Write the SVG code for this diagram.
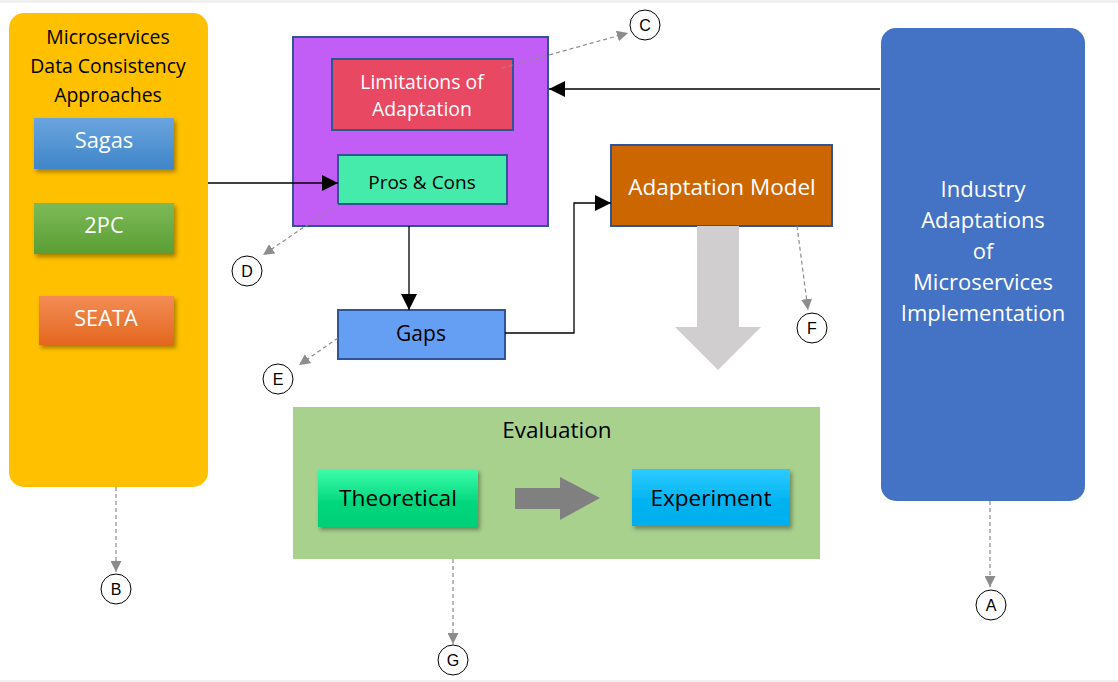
<svg xmlns="http://www.w3.org/2000/svg" width="1118" height="682" viewBox="0 0 1118 682">
<defs>
<style>
text{font-family:"Open Sans","Noto Sans","Liberation Sans",sans-serif;text-anchor:middle;}
.w{fill:#fff}
.k{fill:#000}
.box{stroke:#2F5597;stroke-width:2}
.solid{stroke:#000;stroke-width:1.3;fill:none}
.dash{stroke:#8C8C8C;stroke-width:1.2;stroke-dasharray:4 3;fill:none}
.lbl circle{fill:#fff;stroke:#000;stroke-width:1}
.lbl text{font-family:"Liberation Sans",Arial,sans-serif;font-size:16px;fill:#000}
</style>
<marker id="ah" viewBox="0 0 10 10" refX="10" refY="5" markerWidth="16" markerHeight="16" markerUnits="userSpaceOnUse" orient="auto"><path d="M0,0L10,5L0,10z" fill="#000"/></marker>
<marker id="gh" viewBox="0 0 10 10" refX="10" refY="5" markerWidth="11" markerHeight="11" markerUnits="userSpaceOnUse" orient="auto"><path d="M0,0L10,5L0,10z" fill="#8C8C8C"/></marker>
<linearGradient id="gBlue" x1="0" y1="0" x2="0" y2="1"><stop offset="0" stop-color="#6BA5DE"/><stop offset="1" stop-color="#3F85C9"/></linearGradient>
<linearGradient id="gGreen" x1="0" y1="0" x2="0" y2="1"><stop offset="0" stop-color="#7DBA58"/><stop offset="1" stop-color="#5A9E34"/></linearGradient>
<linearGradient id="gOrange" x1="0" y1="0" x2="0" y2="1"><stop offset="0" stop-color="#F28C55"/><stop offset="1" stop-color="#E4661F"/></linearGradient>
<linearGradient id="gTheo" x1="0" y1="0" x2="0" y2="1"><stop offset="0" stop-color="#3DFDAA"/><stop offset="0.6" stop-color="#00D67C"/><stop offset="1" stop-color="#00D078"/></linearGradient>
<linearGradient id="gExp" x1="0" y1="0" x2="0" y2="1"><stop offset="0" stop-color="#2DCBFF"/><stop offset="0.6" stop-color="#00B2F0"/><stop offset="1" stop-color="#00AEEE"/></linearGradient>
<filter id="sh" x="-10%" y="-10%" width="125%" height="135%"><feDropShadow dx="2" dy="3" stdDeviation="2" flood-color="#000" flood-opacity="0.35"/></filter>
</defs>
<rect x="0" y="0" width="1118" height="682" fill="#fff"/>
<rect x="0" y="0" width="1118" height="3" fill="#F0F0F0"/>
<rect x="0" y="680" width="1118" height="2" fill="#F0F0F0"/>

<g id="approaches">
<rect x="9" y="13" width="199" height="474" rx="15" fill="#FFC000"/>
<text x="108" y="44" font-size="19.4" class="k">Microservices</text>
<text x="108" y="73" font-size="19.4" class="k">Data Consistency</text>
<text x="108" y="102" font-size="19.4" class="k">Approaches</text>
</g>
<g id="sagas"><rect x="34" y="118" width="140" height="51" fill="url(#gBlue)" filter="url(#sh)"/><text x="104" y="148" font-size="21.8" class="w">Sagas</text></g>
<g id="twopc"><rect x="34" y="203" width="140" height="51" fill="url(#gGreen)" filter="url(#sh)"/><text x="104" y="233" font-size="21.8" class="w">2PC</text></g>
<g id="seata"><rect x="39" y="296" width="135" height="49" fill="url(#gOrange)" filter="url(#sh)"/><text x="106" y="326" font-size="21.8" class="w">SEATA</text></g>

<g id="group-purple"><rect x="293" y="37" width="255" height="189" fill="#C25EF6" class="box"/></g>
<g id="limitations"><rect x="332" y="59" width="181" height="71" fill="#E94862" class="box"/>
<text x="422" y="89" font-size="19.4" class="w">Limitations of</text>
<text x="422" y="116" font-size="19.4" class="w">Adaptation</text></g>
<g id="proscons"><rect x="338" y="155" width="169" height="49" fill="#45EBAA" class="box"/><text x="422" y="189" font-size="19" class="k">Pros &amp; Cons</text></g>

<g id="gaps"><rect x="338" y="310" width="167" height="49" fill="#659FF4" class="box"/><text x="421" y="341" font-size="21" class="k">Gaps</text></g>

<g id="model"><rect x="611" y="145" width="221" height="81" fill="#CC6600" class="box"/><text x="722" y="195" font-size="22.5" class="w">Adaptation Model</text></g>

<g id="industry"><rect x="881" y="28" width="204" height="473" rx="15" fill="#4472C4"/>
<text x="983" y="197" font-size="22" class="w">Industry</text>
<text x="983" y="228" font-size="22" class="w">Adaptations</text>
<text x="983" y="259" font-size="22" class="w">of</text>
<text x="983" y="290" font-size="22" class="w">Microservices</text>
<text x="983" y="321" font-size="22" class="w">Implementation</text></g>

<g id="evaluation"><rect x="293" y="407" width="527" height="152" fill="#A9D18E"/><text x="557" y="438" font-size="22.5" class="k">Evaluation</text></g>
<g id="theoretical"><rect x="318" y="469" width="160" height="58" fill="url(#gTheo)" filter="url(#sh)"/><text x="398" y="506" font-size="22.7" class="k">Theoretical</text></g>
<g id="experiment"><rect x="632" y="469" width="158" height="57" fill="url(#gExp)" filter="url(#sh)"/><text x="711" y="506" font-size="22.5" class="k">Experiment</text></g>

<g id="connectors">
<path class="solid" d="M208,183H338" marker-end="url(#ah)"/>
<path class="solid" d="M880,89H549" marker-end="url(#ah)"/>
<path class="solid" d="M409,226V310" marker-end="url(#ah)"/>
<path class="solid" d="M505,333H574V203H611" marker-end="url(#ah)"/>
<path d="M697,226H739V327H761L718,370L675,327H697Z" fill="#D0CECE"/>
<path d="M515,488H560V477L600,498L560,520V509H515Z" fill="#808080"/>
<path class="dash" d="M502,68L628,33" marker-end="url(#gh)"/>
<path class="dash" d="M338,204L263,255" marker-end="url(#gh)"/>
<path class="dash" d="M338,338L299,365" marker-end="url(#gh)"/>
<path class="dash" d="M797,226L808,310" marker-end="url(#gh)"/>
<path class="dash" d="M116,487V572" marker-end="url(#gh)"/>
<path class="dash" d="M990,501V587" marker-end="url(#gh)"/>
<path class="dash" d="M453,559V644" marker-end="url(#gh)"/>
</g>

<g id="label-A" class="lbl"><circle cx="991" cy="605" r="15"/><text x="991" y="611">A</text></g>
<g id="label-B" class="lbl"><circle cx="116" cy="589" r="15"/><text x="116" y="595">B</text></g>
<g id="label-C" class="lbl"><circle cx="645" cy="25" r="15"/><text x="645" y="31">C</text></g>
<g id="label-D" class="lbl"><circle cx="247" cy="271" r="15"/><text x="247" y="277">D</text></g>
<g id="label-E" class="lbl"><circle cx="278" cy="379" r="15"/><text x="278" y="385">E</text></g>
<g id="label-F" class="lbl"><circle cx="812" cy="328" r="15"/><text x="812" y="334">F</text></g>
<g id="label-G" class="lbl"><circle cx="453" cy="660" r="15"/><text x="453" y="666">G</text></g>
</svg>
